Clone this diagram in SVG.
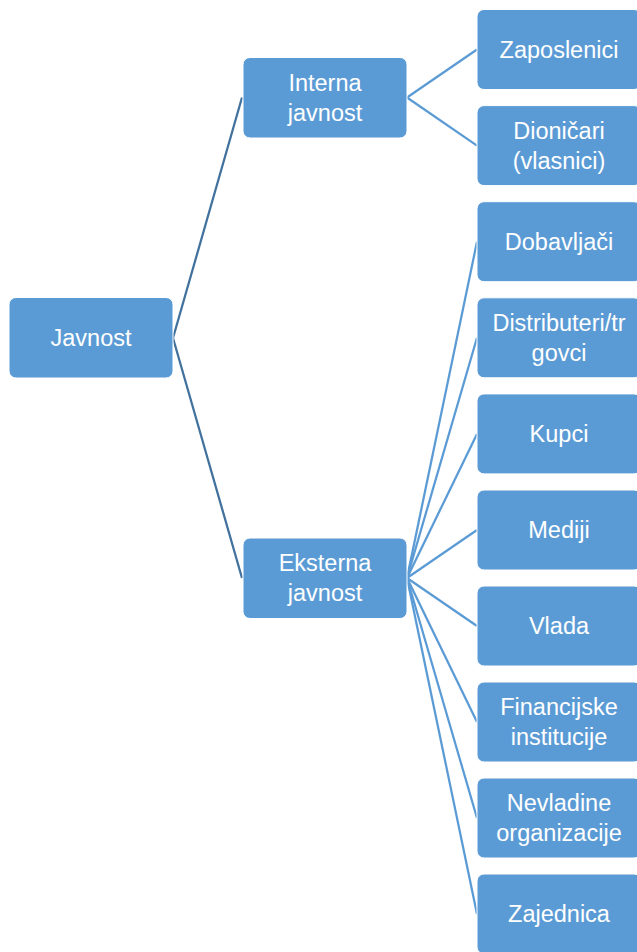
<svg xmlns="http://www.w3.org/2000/svg" width="637" height="952" viewBox="0 0 637 952">
<style>
.box{fill:#5B9BD5;stroke:#FFFFFF;stroke-width:1}
.t{font-family:"Liberation Sans",Arial,sans-serif;font-size:23.5px;fill:#FFFFFF;text-anchor:middle}
.c1{stroke:#41719C;stroke-width:2.25;fill:none}
.c2{stroke:#5B9BD5;stroke-width:2.25;fill:none}
</style>
<rect width="637" height="952" fill="#FFFFFF"/>
<g id="connectors">
<path class="c1" d="M173,338 L242,97.5"/>
<path class="c1" d="M173,338 L242,578"/>
<path class="c2" d="M407,97.5 L477,49.5"/>
<path class="c2" d="M407,97.5 L477,145.6"/>
<path class="c2" d="M407,578 L477,241.7"/>
<path class="c2" d="M407,578 L477,337.8"/>
<path class="c2" d="M407,578 L477,433.9"/>
<path class="c2" d="M407,578 L477,530"/>
<path class="c2" d="M407,578 L477,626"/>
<path class="c2" d="M407,578 L477,722"/>
<path class="c2" d="M407,578 L477,818"/>
<path class="c2" d="M407,578 L477,914"/>
</g>
<g id="javnost"><rect class="box" x="9" y="297.5" width="164" height="80.5" rx="7"/><text class="t" x="91" y="346">Javnost</text></g>
<g id="interna"><rect class="box" x="243" y="57.5" width="164" height="80.5" rx="7"/><text class="t" x="325" y="90.5">Interna</text><text class="t" x="325" y="120.5">javnost</text></g>
<g id="eksterna"><rect class="box" x="243" y="538" width="164" height="80.5" rx="7"/><text class="t" x="325" y="571">Eksterna</text><text class="t" x="325" y="601">javnost</text></g>
<g id="zaposlenici"><rect class="box" x="477" y="9.5" width="164" height="80" rx="7"/><text class="t" x="559" y="57.5">Zaposlenici</text></g>
<g id="dionicari"><rect class="box" x="477" y="105.6" width="164" height="80" rx="7"/><text class="t" x="559" y="139">Dioničari</text><text class="t" x="559" y="168.5">(vlasnici)</text></g>
<g id="dobavljaci"><rect class="box" x="477" y="201.7" width="164" height="80" rx="7"/><text class="t" x="559" y="250">Dobavljači</text></g>
<g id="distributeri"><rect class="box" x="477" y="297.8" width="164" height="80" rx="7"/><text class="t" x="559" y="331">Distributeri/tr</text><text class="t" x="559" y="361">govci</text></g>
<g id="kupci"><rect class="box" x="477" y="393.9" width="164" height="80" rx="7"/><text class="t" x="559" y="442">Kupci</text></g>
<g id="mediji"><rect class="box" x="477" y="490" width="164" height="80" rx="7"/><text class="t" x="559" y="538">Mediji</text></g>
<g id="vlada"><rect class="box" x="477" y="586" width="164" height="80" rx="7"/><text class="t" x="559" y="634">Vlada</text></g>
<g id="financijske"><rect class="box" x="477" y="682" width="164" height="80" rx="7"/><text class="t" x="559" y="715">Financijske</text><text class="t" x="559" y="745">institucije</text></g>
<g id="nevladine"><rect class="box" x="477" y="778" width="164" height="80" rx="7"/><text class="t" x="559" y="811">Nevladine</text><text class="t" x="559" y="841">organizacije</text></g>
<g id="zajednica"><rect class="box" x="477" y="874" width="164" height="80" rx="7"/><text class="t" x="559" y="922">Zajednica</text></g>
</svg>
